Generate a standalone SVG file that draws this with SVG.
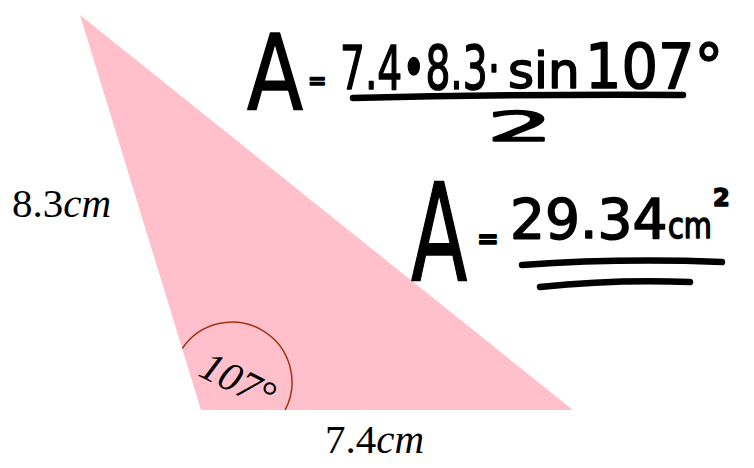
<svg xmlns="http://www.w3.org/2000/svg" width="754" height="468" viewBox="0 0 754 468">
<style>
.lbl{font-family:"Liberation Serif","Times New Roman",serif;fill:#000}
.it{font-style:italic}
.hw{font-family:"DejaVu Sans","Noto Sans",sans-serif;fill:#000;stroke:#000;stroke-width:1.6;stroke-linejoin:round}
.ink{fill:none;stroke:#000;stroke-width:6.5;stroke-linecap:round}
</style>
<rect width="754" height="468" fill="#fff"/>
<g id="triangle">
<polygon points="80,15 201,410 573,410" fill="#ffc0cb"/>
<path d="M182.2,348.6 A60,60 0 0 1 285.1,410" fill="none" stroke="#a3340f" stroke-width="1.5"/>
<text class="lbl it" font-size="41" transform="translate(197,375) rotate(27)">107°</text>
</g>
<g id="side-a">
<text class="lbl" x="12" y="217" font-size="41">8.3<tspan class="it">cm</tspan></text>
</g>
<g id="side-b">
<text class="lbl" x="325" y="453" font-size="41">7.4<tspan class="it">cm</tspan></text>
</g>
<g id="formula">
<text class="hw" font-size="105" transform="translate(247,110) scale(0.78,1)">A</text>
<text class="hw" x="308" y="88" font-size="22" font-weight="bold">=</text>
<text class="hw" font-size="60" transform="translate(340,89) scale(0.653,1)">7.4•8.3·</text>
<text class="hw" x="508" y="88" font-size="50">sin</text>
<text class="hw" font-size="62" transform="translate(585,88) scale(0.926,1)">107°</text>
<path class="ink" d="M353,98 Q520,94 683,95"/>
<text class="hw" font-size="40" transform="translate(487,141) scale(2.6,1)">2</text>
</g>
<g id="result">
<text class="hw" font-size="135" transform="translate(411,280) scale(0.61,1)">A</text>
<text class="hw" x="477" y="248" font-size="26" font-weight="bold">=</text>
<text class="hw" x="510" y="238" font-size="55">29.34</text>
<text class="hw" font-size="36" transform="translate(668,238) scale(0.8,1)">cm</text>
<text class="hw" x="713" y="206" font-size="24" font-weight="bold">2</text>
<path class="ink" d="M522,265 Q620,258 722,262"/>
<path class="ink" d="M540,287 Q615,279 690,282"/>
</g>
</svg>
